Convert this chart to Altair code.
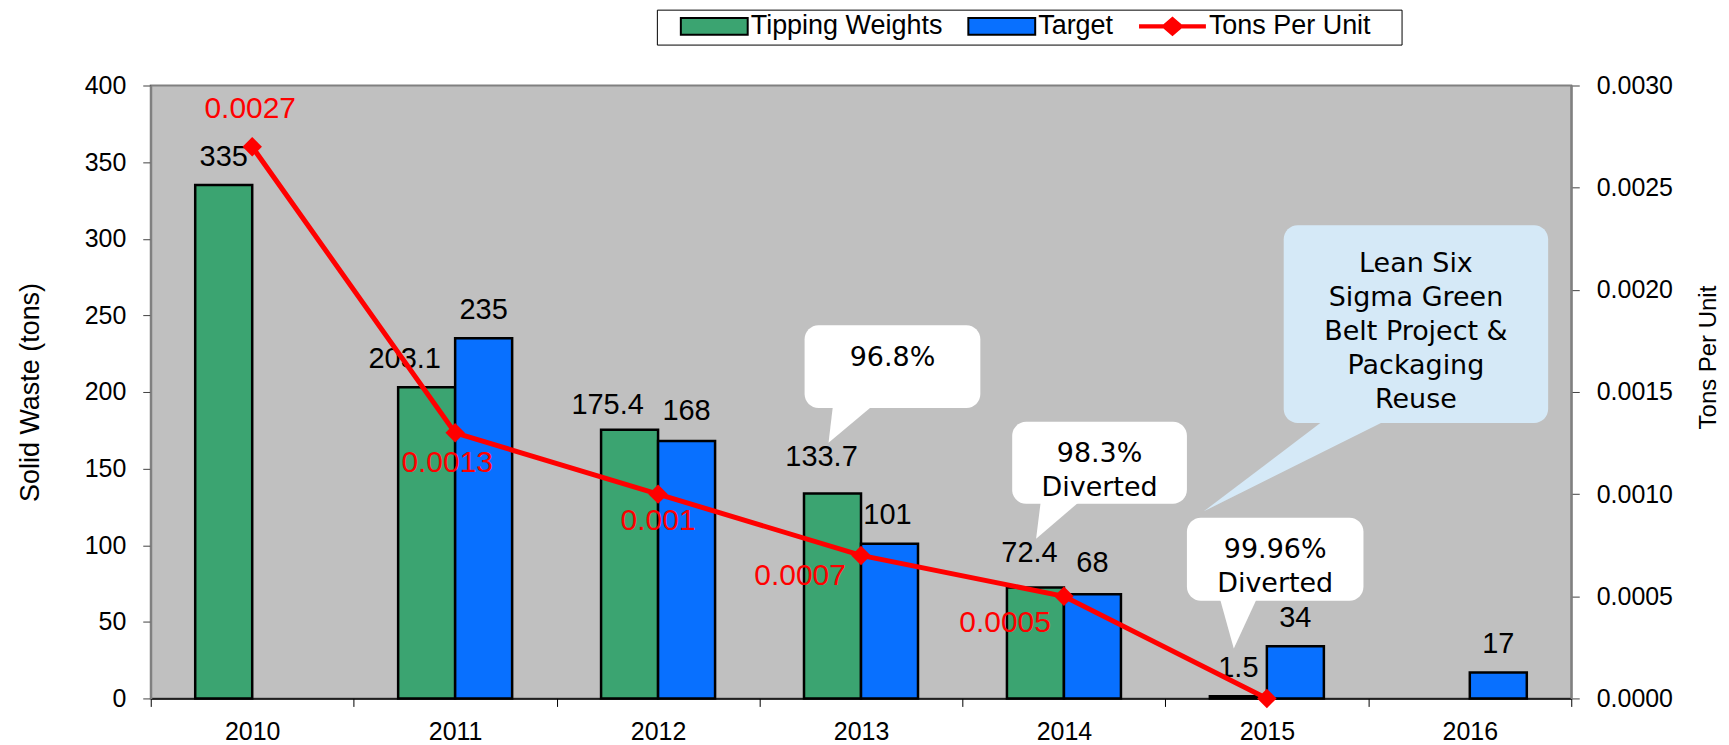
import altair as alt
import pandas as pd

# ---------------- data ----------------
years = ["2010", "2011", "2012", "2013", "2014", "2015", "2016"]
tipping_weights = [335, 203.1, 175.4, 133.7, 72.4, 1.5, None]
target = [None, 235, 168, 101, 68, 34, 17]
tons_per_unit = [0.0027, 0.0013, 0.001, 0.0007, 0.0005, 0.0, None]
series = ["Tipping Weights", "Target", "Tons Per Unit"]
series_colors = ["#3BA471", "#0870FF", "#FF0000"]
left_ticks = [0, 50, 100, 150, 200, 250, 300, 350, 400]
right_ticks = [0.0, 0.0005, 0.001, 0.0015, 0.002, 0.0025, 0.003]

# callout annotations (x in category units 0..7, y in tons)
callout_texts = ["96.8%", "98.3%\nDiverted", "99.96%\nDiverted",
                 "Lean Six\nSigma Green\nBelt Project &\nPackaging\nReuse"]
callout_fills = ["#FFFFFF", "#FFFFFF", "#FFFFFF", "#D5E9F7"]
callout_left = [3.222, 4.245, 5.106, 5.583]
callout_right = [4.088, 5.106, 5.976, 6.886]
callout_top = [243.6, 180.5, 117.9, 308.8]
callout_bottom = [189.6, 127.0, 63.8, 179.8]
callout_first_line_y = [222.1, 159.6, 97.1, 283.4]
tail_base_left = [3.364, 4.388, 5.263, 5.804]
tail_base_right = [3.581, 4.599, 5.460, 6.124]
tail_tip_x = [3.340, 4.363, 5.337, 5.189]
tail_tip_y = [166.8, 104.2, 32.6, 122.1]

# ---------------- tables ----------------
bar_rows = []
for yr, tw, tg in zip(years, tipping_weights, target):
    if tw is not None:
        bar_rows.append({"year": yr, "series": "Tipping Weights", "value": tw,
                         "label": f"{tw:g}", "key": yr + "|Tipping Weights"})
    if tg is not None:
        bar_rows.append({"year": yr, "series": "Target", "value": tg,
                         "label": f"{tg:g}", "key": yr + "|Target"})
bar_df = pd.DataFrame(bar_rows)

line_rows = []
for yr, v in zip(years, tons_per_unit):
    if v is not None:
        line_rows.append({"year": yr, "tpu": v, "label": f"{v:g}" if v > 0 else ""})
line_df = pd.DataFrame(line_rows)

box_df = pd.DataFrame({"x": callout_left, "x2": callout_right, "y": callout_top,
                       "y2": callout_bottom, "fill": callout_fills})
text_df = pd.DataFrame({"x": [(a + b) / 2 for a, b in zip(callout_left, callout_right)],
                        "y": callout_first_line_y, "text": callout_texts})
tail_rows = []
for i in range(len(callout_texts)):
    tail_rows.append({"id": i, "y": callout_bottom[i] + 4, "x": tail_base_left[i],
                      "x2": tail_base_right[i], "fill": callout_fills[i]})
    tail_rows.append({"id": i, "y": tail_tip_y[i], "x": tail_tip_x[i],
                      "x2": tail_tip_x[i], "fill": callout_fills[i]})
tail_df = pd.DataFrame(tail_rows)

# ---------------- styles ----------------
FONT = "Liberation Sans"
W, H = 1423, 614

bar_label_offsets = {
    "2011|Tipping Weights": (-22, -28),
    "2012|Tipping Weights": (-22, -25),
    "2012|Target": (0, -30),
    "2013|Tipping Weights": (-11, -37),
    "2013|Target": (-2, -29),
    "2014|Tipping Weights": (-6, -35),
    "2014|Target": (0, -31),
}
default_bar_offset = (0, -28)
red_label_offsets = {
    "2010": (-2, -38),
    "2011": (-8, 30),
    "2012": (0, 27),
    "2013": (-61, 21),
    "2014": (-59, 27),
}

RECT = "M-1,0M-0.576,-0.2L1,-0.2L1,0.2L-0.576,0.2Z"
LINE = ("M-1,0M-0.576,-0.052L0.0,-0.052L0.212,-0.235L0.424,-0.052L1,-0.052"
        "L1,0.052L0.424,0.052L0.212,0.235L0.0,0.052L-0.576,0.052Z")
IS_LINE = "(datum.value === 'Tons Per Unit')"

legend = alt.Legend(
    orient="none", legendX=507, legendY=-76, direction="horizontal",
    title=" ", titleOrient="right", titlePadding=26, titleFontSize=1,
    labelFont=FONT, labelFontSize=27, labelColor="#000000", labelOffset=2,
    labelLimit=400, symbolSize=7225, columnPadding=6, padding=5, clipHeight=23,
    strokeColor="#000000", fillColor="#FFFFFF",
    symbolType={"expr": f"{IS_LINE} ? '{LINE}' : '{RECT}'"},
    symbolStrokeColor={"expr": f"{IS_LINE} ? 'transparent' : '#000000'"},
    symbolStrokeWidth=2,
    symbolOpacity=1,
)

X = alt.X("year:N", scale=alt.Scale(domain=years, paddingInner=0, paddingOuter=0),
          axis=alt.Axis(title=None, labelAngle=0, tickBand="extent", tickSize=8,
                        tickColor="#000000", domainColor="#000000", domainWidth=1.5,
                        labelFont=FONT, labelFontSize=25, labelPadding=13,
                        labelColor="#000000"))
XOFF = alt.XOffset("series:N", scale=alt.Scale(domain=series[:2], paddingInner=0,
                                                paddingOuter=0.78))
YL = alt.Y("value:Q", scale=alt.Scale(domain=[0, 400], nice=False),
           axis=alt.Axis(orient="left", title="Solid Waste (tons)", values=left_ticks,
                         format="d", grid=False, tickSize=8, tickColor="#404040",
                         domainColor="#808080", domainWidth=2, labelFont=FONT,
                         labelFontSize=25, labelPadding=17, labelColor="#000000",
                         titleFont=FONT, titleFontSize=27, titleFontWeight="normal",
                         titleColor="#000000", titlePadding=40))

bars = alt.Chart(bar_df).mark_bar(stroke="#000000", strokeWidth=2.5).encode(
    x=X, xOffset=XOFF, y=YL,
    color=alt.Color("series:N", scale=alt.Scale(domain=series, range=series_colors),
                    legend=legend),
)

bar_layers = [bars]
offset_groups = {}
for k in bar_df["key"]:
    offset_groups.setdefault(bar_label_offsets.get(k, default_bar_offset), []).append(k)
for (dx, dy), keys in offset_groups.items():
    bar_layers.append(
        alt.Chart(bar_df).transform_filter(alt.FieldOneOfPredicate(field="key", oneOf=keys))
        .mark_text(dx=dx, dy=dy, font=FONT, fontSize=29, color="#000000",
                   baseline="middle", align="center")
        .encode(x=X, xOffset=XOFF, y=YL, text="label:N")
    )
bar_group = alt.layer(*bar_layers)

XL = alt.X("year:N", scale=alt.Scale(type="point", domain=years, padding=0.5), axis=None)
YR = alt.Y("tpu:Q", scale=alt.Scale(domain=[0, 0.003], nice=False),
           axis=alt.Axis(orient="right", title="Tons Per Unit", values=right_ticks,
                         format=".4f", grid=False, tickSize=8, tickColor="#404040",
                         domainColor="#808080", domainWidth=2, labelFont=FONT,
                         labelFontSize=25, labelPadding=17, labelColor="#000000",
                         titleFont=FONT, titleFontSize=24, titleFontWeight="normal",
                         titleColor="#000000", titlePadding=48, titleAngle=270,
                         titleY=272))

line = alt.Chart(line_df).mark_line(color="#FF0000", strokeWidth=5).encode(x=XL, y=YR)
pts = alt.Chart(line_df).mark_point(shape="diamond", filled=True, size=380,
                                    color="#FF0000", opacity=1).encode(x=XL, y=YR)
line_layers = [line, pts]
for yr, (dx, dy) in red_label_offsets.items():
    line_layers.append(
        alt.Chart(line_df).transform_filter(alt.datum.year == yr)
        .mark_text(dx=dx, dy=dy, font=FONT, fontSize=30, color="#FF0000",
                   baseline="middle", align="center")
        .encode(x=XL, y=YR, text="label:N")
    )
line_group = alt.layer(*line_layers)

XA = alt.X("x:Q", scale=alt.Scale(domain=[0, 7], nice=False, zero=False), axis=None)
YA = alt.Y("y:Q", scale=alt.Scale(domain=[0, 400], nice=False), axis=None)
tails = alt.Chart(tail_df).mark_area(orient="horizontal", opacity=1).encode(
    y=YA, x=XA, x2="x2:Q", fill=alt.Fill("fill:N", scale=None), detail="id:N")
boxes = alt.Chart(box_df).mark_rect(cornerRadius=14).encode(
    x=XA, x2="x2:Q", y=YA, y2="y2:Q", fill=alt.Fill("fill:N", scale=None))
texts = alt.Chart(text_df).mark_text(font="DejaVu Sans", fontSize=27, lineBreak="\n",
                                     lineHeight=34, color="#000000", baseline="middle",
                                     align="center").encode(x=XA, y=YA, text="text:N")
annot_group = alt.layer(tails, boxes, texts)

chart = (
    alt.layer(bar_group, line_group, annot_group)
    .resolve_scale(x="independent", y="independent")
    .properties(width=W, height=H, background="#FFFFFF",
                padding={"left": 8, "top": 0, "right": 0, "bottom": 0})
    .configure_view(fill="#C0C0C0", stroke="#808080", strokeWidth=2)
)

chart.save("out.html", embed_options={"renderer": "svg", "actions": False})
